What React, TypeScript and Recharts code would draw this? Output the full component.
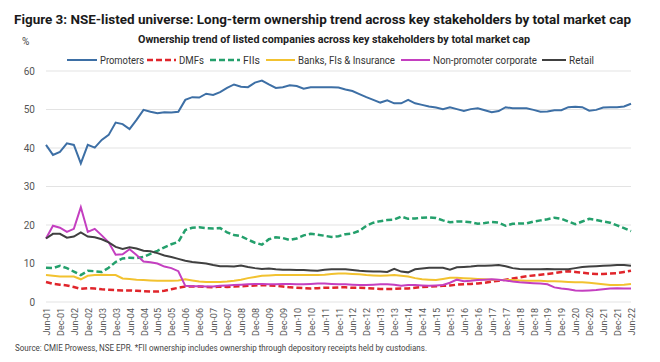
import React from "react";
import { LineChart, Line, XAxis, YAxis, CartesianGrid } from "recharts";

const quarters = [
  "Jun-01","Sep-01","Dec-01","Mar-02","Jun-02","Sep-02","Dec-02","Mar-03","Jun-03","Sep-03",
  "Dec-03","Mar-04","Jun-04","Sep-04","Dec-04","Mar-05","Jun-05","Sep-05","Dec-05","Mar-06",
  "Jun-06","Sep-06","Dec-06","Mar-07","Jun-07","Sep-07","Dec-07","Mar-08","Jun-08","Sep-08",
  "Dec-08","Mar-09","Jun-09","Sep-09","Dec-09","Mar-10","Jun-10","Sep-10","Dec-10","Mar-11",
  "Jun-11","Sep-11","Dec-11","Mar-12","Jun-12","Sep-12","Dec-12","Mar-13","Jun-13","Sep-13",
  "Dec-13","Mar-14","Jun-14","Sep-14","Dec-14","Mar-15","Jun-15","Sep-15","Dec-15","Mar-16",
  "Jun-16","Sep-16","Dec-16","Mar-17","Jun-17","Sep-17","Dec-17","Mar-18","Jun-18","Sep-18",
  "Dec-18","Mar-19","Jun-19","Sep-19","Dec-19","Mar-20","Jun-20","Sep-20","Dec-20","Mar-21",
  "Jun-21","Sep-21","Dec-21","Mar-22","Jun-22"
];

const promoters = [
  40.8, 38.2, 39.0, 41.2, 40.8, 36.0, 40.8, 40.1, 42.1, 43.4,
  46.6, 46.2, 44.9, 47.3, 49.9, 49.4, 49.0, 49.3, 49.2, 49.4,
  52.5, 53.2, 53.1, 54.1, 53.8, 54.5, 55.6, 56.5, 55.9, 55.8,
  57.0, 57.5, 56.5, 55.6, 55.8, 56.3, 56.1, 55.4, 55.8, 55.8,
  55.8, 55.8, 55.7, 55.2, 54.8, 54.0, 53.2, 52.5, 51.8, 52.4,
  51.6, 51.6, 52.5, 51.6, 51.2, 50.8, 50.5, 50.1, 50.6, 50.1,
  49.6, 50.1, 50.3, 49.8, 49.3, 49.6, 50.6, 50.3, 50.3, 50.3,
  49.9, 49.4, 49.5, 49.8, 49.8, 50.6, 50.7, 50.6, 49.7, 49.9,
  50.5, 50.6, 50.6, 50.8, 51.5
];

const dmfs = [
  5.2, 4.7, 4.5, 4.3, 3.9, 3.4, 3.6, 3.5, 3.3, 3.2,
  3.1, 3.0, 3.0, 2.9, 2.8, 2.7, 2.7, 2.9, 3.3, 3.7,
  4.0, 4.0, 4.0, 3.9, 3.8, 4.0, 3.9, 4.0, 4.1, 4.2,
  4.3, 4.4, 4.3, 4.2, 4.0, 3.8, 3.7, 3.6, 3.5, 3.6,
  3.7, 3.7, 3.8, 3.8, 3.7, 3.7, 3.6, 3.5, 3.4, 3.4,
  3.4, 3.5, 3.5, 3.7, 3.9, 4.0, 4.1, 4.2, 4.3, 4.5,
  4.6, 4.7, 4.8, 5.0, 5.3, 5.5, 5.8, 6.1, 6.4, 6.7,
  6.9, 7.1, 7.3, 7.5, 7.8, 8.0, 7.8, 7.6, 7.4, 7.3,
  7.3, 7.4, 7.5, 7.8, 8.1
];

const fiis = [
  8.9, 8.8, 9.4, 8.8, 7.9, 7.0, 8.1, 8.0, 7.8, 8.9,
  10.4, 11.3, 11.5, 11.4, 11.7, 12.5, 13.3, 14.2, 15.0, 15.6,
  18.7, 19.3, 19.4, 19.2, 19.1, 19.2, 18.1, 17.4, 17.1, 16.2,
  15.4, 14.9, 16.3, 16.8, 16.6, 16.1, 16.5, 17.3, 17.7, 17.5,
  17.2, 16.9, 17.1, 17.6, 17.8, 18.5, 19.8, 20.6, 21.0, 21.3,
  21.4, 22.2, 21.6, 21.7, 21.9, 22.0, 21.8, 21.2, 20.7, 20.9,
  20.9, 20.7, 20.3, 20.5, 20.8, 20.6, 19.8, 20.3, 20.4, 20.4,
  20.9, 21.2, 21.5, 21.9, 21.6, 20.9, 20.2, 20.9, 21.6, 21.3,
  20.9, 20.6, 19.9, 19.2, 18.4
];

const banks = [
  7.0, 6.8, 6.6, 6.6, 6.6, 5.9, 6.8, 7.0, 7.1, 7.0,
  7.0, 6.1, 6.0, 5.8, 5.7, 5.6, 5.5, 5.5, 5.5, 5.6,
  5.9, 5.6, 5.3, 5.2, 5.2, 5.2, 5.3, 5.5, 5.8, 6.2,
  6.5, 6.8, 6.9, 7.0, 7.0, 7.0, 7.0, 7.0, 7.0, 7.0,
  7.1, 7.3, 7.4, 7.4, 7.3, 7.2, 7.0, 6.9, 6.8, 6.9,
  7.0, 6.8, 6.6, 6.2, 5.9, 5.8, 5.7, 6.0, 6.3, 6.3,
  6.2, 6.1, 6.0, 5.9, 5.8, 5.7, 5.7, 5.7, 5.6, 5.5,
  5.5, 5.5, 5.4, 5.4, 5.3, 5.2, 5.1, 5.1, 5.0, 4.8,
  4.6, 4.4, 4.4, 4.5, 4.7
];

const nonPromoterCorp = [
  16.5, 19.8, 19.3, 18.2, 19.0, 24.6, 18.2, 19.0, 17.3, 15.5,
  12.3, 12.4, 13.7, 12.2, 10.5, 10.3, 10.0, 9.2, 8.8, 8.0,
  4.2, 4.1, 4.1, 4.0, 4.0, 4.2, 4.3, 4.4, 4.5, 4.6,
  4.7, 4.7, 4.6, 4.6, 4.7, 4.7, 4.6, 4.6, 4.7, 4.8,
  4.8, 4.7, 4.6, 4.6, 4.5, 4.4, 4.4, 4.5, 4.6, 4.6,
  4.5, 4.2, 4.4, 4.4, 4.3, 4.2, 4.3, 4.4, 5.0, 5.8,
  5.4, 5.5, 5.7, 5.8, 5.9, 5.8, 5.6, 5.3, 5.1, 5.0,
  4.9, 4.8, 4.6, 3.8, 3.5, 3.3, 3.0, 2.9, 3.0, 3.1,
  3.3, 3.5, 3.6, 3.5, 3.5
];

const retail = [
  16.5, 17.7, 17.7, 16.7, 17.0, 18.1, 17.0, 16.8, 16.3, 15.5,
  14.3, 13.8, 14.2, 13.9, 13.3, 13.2, 12.7, 12.1, 11.7, 11.2,
  10.7, 10.4, 10.2, 10.0, 9.6, 9.3, 9.3, 9.2, 9.5, 9.1,
  8.8, 8.6, 8.7, 8.5, 8.4, 8.4, 8.3, 8.3, 8.2, 8.1,
  8.4, 8.5, 8.5, 8.5, 8.3, 8.1, 8.0, 7.9, 7.9, 7.8,
  8.6, 7.9, 7.7, 8.5, 8.7, 8.9, 8.9, 8.9, 8.4, 9.0,
  9.1, 9.2, 9.4, 9.4, 9.5, 9.6, 9.3, 8.8, 8.6, 8.5,
  8.5, 8.5, 8.6, 8.5, 8.5, 8.5, 8.8, 9.1, 9.2, 9.3,
  9.4, 9.5, 9.6, 9.6, 9.4
];

const yTicks = [0, 10, 20, 30, 40, 50, 60];

const seriesDefs = [
  { key: "promoters", name: "Promoters", color: "#3d6fa5", dash: undefined, width: 2 },
  { key: "dmfs", name: "DMFs", color: "#e0252b", dash: "6 3", width: 2.5 },
  { key: "fiis", name: "FIIs", color: "#24a06c", dash: "6 3", width: 2.5 },
  { key: "banks", name: "Banks, FIs & Insurance", color: "#f2c230", dash: undefined, width: 2 },
  { key: "npc", name: "Non-promoter corporate", color: "#c43fc0", dash: undefined, width: 2 },
  { key: "retail", name: "Retail", color: "#404040", dash: undefined, width: 2 },
];

const legendPos = [
  { lineX: 67, lineW: 30, textX: 100, textW: 44 },
  { lineX: 147, lineW: 29, textX: 179, textW: 25 },
  { lineX: 210, lineW: 30, textX: 243, textW: 17 },
  { lineX: 266, lineW: 29, textX: 298, textW: 97 },
  { lineX: 401, lineW: 29, textX: 433, textW: 104 },
  { lineX: 542, lineW: 24, textX: 569, textW: 0 },
];

const data = quarters.map((q, i) => ({
  q,
  promoters: promoters[i],
  dmfs: dmfs[i],
  fiis: fiis[i],
  banks: banks[i],
  npc: nonPromoterCorp[i],
  retail: retail[i],
}));

const FONT = "Roboto, 'Open Sans', sans-serif";

const XTick = (props: any) => {
  const { x, y, payload } = props;
  return (
    <text
      transform={`translate(${x + 1},${y}) rotate(-90)`}
      textAnchor="end"
      dominantBaseline="central"
      fontSize={9}
      fontFamily={FONT}
      fill="#555"
    >
      {payload.value}
    </text>
  );
};

export default function App() {
  return (
    <div style={{ position: "absolute", left: 0, top: 0, width: 660, height: 362, background: "#fff" }}>
      <LineChart
        width={660}
        height={362}
        data={data}
        margin={{ top: 71, right: 29, bottom: 0, left: 0 }}
      >
        <CartesianGrid vertical={false} stroke="#e3e3e3" />
        <XAxis
          dataKey="q"
          interval={1}
          height={60}
          axisLine={false}
          tickLine={false}
          tickSize={0}
          tickMargin={6}
          tick={<XTick />}
        />
        <YAxis
          width={46}
          domain={[0, 60]}
          ticks={yTicks}
          axisLine={false}
          tickLine={false}
          tickSize={0}
          tickMargin={11}
          tick={{ fontSize: 10, fill: "#555", fontFamily: FONT }}
        />
        {seriesDefs.map((s) => (
          <Line
            key={s.key}
            dataKey={s.key}
            name={s.name}
            type="linear"
            stroke={s.color}
            strokeWidth={s.width}
            strokeDasharray={s.dash}
            dot={false}
            activeDot={false}
            isAnimationActive={false}
          />
        ))}
      </LineChart>
      <svg
        width={660}
        height={362}
        style={{ position: "absolute", left: 0, top: 0, pointerEvents: "none" }}
      >
        <text x={14} y={24} fontFamily={FONT} fontWeight={700} fontSize={13.5} fill="#1a1a1a" textLength={617} lengthAdjust="spacingAndGlyphs">
          Figure 3: NSE-listed universe: Long-term ownership trend across key stakeholders by total market cap
        </text>
        <text x={138} y={43} fontFamily={FONT} fontWeight={700} fontSize={10} fill="#222" textLength={392} lengthAdjust="spacingAndGlyphs">
          Ownership trend of listed companies across key stakeholders by total market cap
        </text>
        <text x={22} y={45} fontFamily={FONT} fontSize={10} fill="#444">%</text>
        {seriesDefs.map((s, i) => (
          <g key={s.key}>
            <line
              x1={legendPos[i].lineX}
              x2={legendPos[i].lineX + legendPos[i].lineW}
              y1={60}
              y2={60}
              stroke={s.color}
              strokeWidth={s.width}
              strokeDasharray={s.dash}
            />
            <text
              x={legendPos[i].textX}
              y={63.5}
              fontFamily={FONT}
              fontSize={10}
              fill="#333"
              textLength={legendPos[i].textW > 0 ? legendPos[i].textW : undefined}
              lengthAdjust={legendPos[i].textW > 0 ? "spacingAndGlyphs" : undefined}
            >
              {s.name}
            </text>
          </g>
        ))}
        <text x={15} y={351} fontFamily={FONT} fontSize={8.5} fill="#444" textLength={412} lengthAdjust="spacingAndGlyphs">
          Source: CMIE Prowess, NSE EPR. *FII ownership includes ownership through depository receipts held by custodians.
        </text>
      </svg>
    </div>
  );
}
